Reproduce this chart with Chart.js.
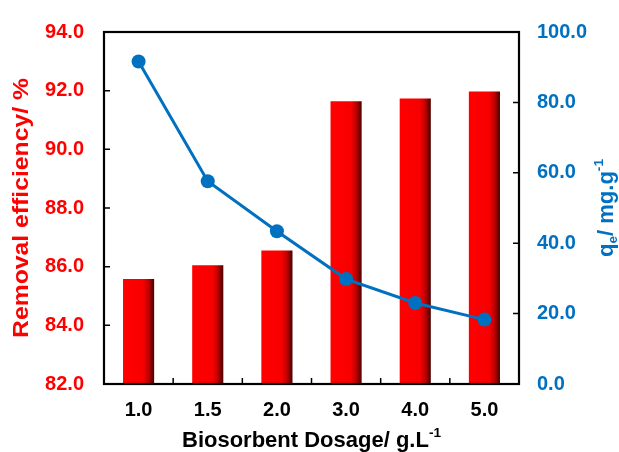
<!DOCTYPE html>
<html>
<head>
<meta charset="utf-8">
<script src="https://cdn.jsdelivr.net/npm/chart.js@4"></script>
<style>
body { margin: 0; background: #fff; }
</style>
</head>
<body>
<canvas id="myChart" width="619" height="452"></canvas>
<script>
// values
const dosages = ['1.0', '1.5', '2.0', '3.0', '4.0', '5.0'];
const removal = [85.58, 86.05, 86.55, 91.64, 91.73, 91.97];
const qe = [91.6, 57.6, 43.4, 29.8, 23.0, 18.3];

const RED = '#ff0000';
const BLUE = '#0070c0';
const FONT = 'Liberation Sans, Arial, sans-serif';

// shaded bar like the excel one: red face, dark right edge
function barFill(ctx) {
    const chart = ctx.chart;
    if (!chart.chartArea || ctx.type !== 'data') return RED;
    const x = chart.scales.x.getPixelForValue(ctx.dataIndex);
    const half = 15.5;
    const g = chart.ctx.createLinearGradient(x - half, 0, x + half, 0);
    g.addColorStop(0, '#ff0000');
    g.addColorStop(0.65, '#f80000');
    g.addColorStop(0.82, '#c00000');
    g.addColorStop(1, '#4a0000');
    return g;
}

// draw text with sub / superscript pieces, centred at (0,0)
function richText(c, parts, size) {
    let total = 0;
    for (const p of parts) {
        c.font = 'bold ' + (p.s ? size * 0.62 : size) + 'px ' + FONT;
        p.w = c.measureText(p.t).width;
        total += p.w;
    }
    let x = -total / 2;
    c.textBaseline = 'middle';
    c.textAlign = 'left';
    for (const p of parts) {
        c.font = 'bold ' + (p.s ? size * 0.62 : size) + 'px ' + FONT;
        let dy = 0;
        if (p.s === 'sub') dy = size * 0.3;
        if (p.s === 'sup') dy = -size * 0.35;
        c.fillText(p.t, x, dy);
        x += p.w;
    }
}

const framePlugin = {
    id: 'frame',
    afterDraw(chart) {
        const c = chart.ctx;
        const a = chart.chartArea;
        const sx = chart.scales.x, sy = chart.scales.y, sy1 = chart.scales.y1;
        c.save();
        c.strokeStyle = '#000';
        c.lineWidth = 1.5;
        // inward ticks
        c.beginPath();
        sy.ticks.forEach(t => {
            const y = sy.getPixelForValue(t.value);
            c.moveTo(a.left, y); c.lineTo(a.left + 6, y);
        });
        sy1.ticks.forEach(t => {
            const y = sy1.getPixelForValue(t.value);
            c.moveTo(a.right, y); c.lineTo(a.right - 6, y);
        });
        for (let i = 1; i < dosages.length; i++) {
            const x = (sx.getPixelForValue(i - 1) + sx.getPixelForValue(i)) / 2;
            c.moveTo(x, a.bottom); c.lineTo(x, a.bottom - 6);
        }
        c.stroke();
        c.lineWidth = 2.2;
        c.strokeRect(a.left, a.top, a.right - a.left, a.bottom - a.top);

        // axis titles
        const midY = (a.top + a.bottom) / 2;
        c.fillStyle = RED;
        c.translate(22, midY);
        c.rotate(-Math.PI / 2);
        c.scale(1.1, 1);
        richText(c, [{ t: 'Removal efficiency/ %' }], 22.5);
        c.setTransform(1, 0, 0, 1, 0, 0);

        c.fillStyle = BLUE;
        c.translate(607, midY);
        c.rotate(-Math.PI / 2);
        richText(c, [{ t: 'q' }, { t: 'e', s: 'sub' }, { t: '/ mg.g' }, { t: '-1', s: 'sup' }], 22);
        c.setTransform(1, 0, 0, 1, 0, 0);

        c.fillStyle = '#000';
        c.translate((a.left + a.right) / 2, 441);
        richText(c, [{ t: 'Biosorbent Dosage/ g.L' }, { t: '-1', s: 'sup' }], 22);
        c.restore();
    }
};

const ctx = document.getElementById('myChart').getContext('2d');
new Chart(ctx, {
    data: {
        labels: dosages,
        datasets: [{
            type: 'line',
            data: qe,
            yAxisID: 'y1',
            borderColor: BLUE,
            backgroundColor: BLUE,
            borderWidth: 3,
            pointRadius: 7,
            pointBorderWidth: 0,
            order: 0
        }, {
            type: 'bar',
            data: removal,
            yAxisID: 'y',
            backgroundColor: barFill,
            barPercentage: 0.45,
            categoryPercentage: 1,
            order: 1
        }]
    },
    options: {
        responsive: false,
        animation: false,
        layout: { padding: { top: 22, left: 0, right: 0, bottom: 0 } },
        plugins: { legend: { display: false }, tooltip: { enabled: false } },
        scales: {
            x: {
                offset: true,
                grid: { display: false, drawTicks: false },
                border: { display: false },
                ticks: { color: '#000', font: { family: FONT, size: 20, weight: 'bold' }, padding: 14, maxRotation: 0 },
                afterFit(scale) { scale.height = 68; }
            },
            y: {
                position: 'left',
                min: 82,
                max: 94,
                grid: { display: false, drawTicks: false },
                border: { display: false },
                ticks: {
                    stepSize: 2, color: RED, padding: 20,
                    font: { family: FONT, size: 20, weight: 'bold' },
                    callback: v => v.toFixed(1)
                },
                afterFit(scale) { scale.width = 104; }
            },
            y1: {
                position: 'right',
                min: 0,
                max: 100,
                grid: { display: false, drawTicks: false },
                border: { display: false },
                ticks: {
                    stepSize: 20, color: BLUE, padding: 18,
                    font: { family: FONT, size: 20, weight: 'bold' },
                    callback: v => v.toFixed(1)
                },
                afterFit(scale) { scale.width = 100; }
            }
        }
    },
    plugins: [framePlugin]
});
</script>
</body>
</html>
